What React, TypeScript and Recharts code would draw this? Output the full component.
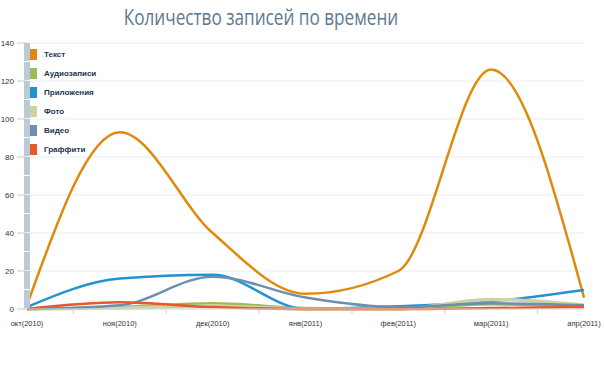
import React from 'react';
import { LineChart, Line, XAxis, YAxis, CartesianGrid, Legend } from 'recharts';

const months = ['окт(2010)', 'ноя(2010)', 'дек(2010)', 'янв(2011)', 'фев(2011)', 'мар(2011)', 'апр(2011)'];
const text = [2, 93, 40, 8, 20, 126, 6];
const audio = [0, 1, 3, 0.5, 0, 2.5, 1];
const apps = [1, 16, 18, 0, 1.5, 4, 10];
const photo = [0, 0.5, 1.5, 0, 0, 5, 2];
const video = [0, 2, 17, 6, 1, 3, 2];
const graffiti = [0, 3.5, 1, 0, 0, 0.5, 1];
const yTicks = [0, 20, 40, 60, 80, 100, 120, 140];

const seriesDefs = [
  { key: 'text', name: 'Текст', color: '#E0890C', values: text },
  { key: 'audio', name: 'Аудиозаписи', color: '#9DBB55', values: audio },
  { key: 'apps', name: 'Приложения', color: '#2592D0', values: apps },
  { key: 'photo', name: 'Фото', color: '#CBD2A4', values: photo },
  { key: 'video', name: 'Видео', color: '#6B90AE', values: video },
  { key: 'graffiti', name: 'Граффити', color: '#E65A2A', values: graffiti },
];
const seriesOrder = seriesDefs.map((s) => s.name);

const data = months.map((m, i) => {
  const row: any = { idx: i, month: m };
  seriesDefs.forEach((s) => { row[s.key] = s.values[i]; });
  return row;
});

const xTicks: number[] = [];
months.forEach((_, i) => {
  xTicks.push(i);
  if (i < months.length - 1) xTicks.push(i + 0.5);
});

const FONT = "'Liberation Sans', Arial, sans-serif";

const XTick = (props: any) => {
  const { x, y, payload } = props;
  const v = payload.value;
  if (Number.isInteger(v)) {
    return (
      <text x={x} y={y + 17} textAnchor="middle" fontSize={7.5} fill="#333" fontFamily={FONT}>
        {months[v]}
      </text>
    );
  }
  return <line x1={x} x2={x} y1={y + 1} y2={y + 5} stroke="#cfcfcf" strokeWidth={1} />;
};

const LegendContent = (props: any) => {
  const items = [...(props.payload || [])].sort(
    (a: any, b: any) => seriesOrder.indexOf(a.value) - seriesOrder.indexOf(b.value)
  );
  return (
    <div>
      {items.map((p: any) => (
        <div key={p.value} style={{ display: 'flex', alignItems: 'center', height: 19 }}>
          <div style={{ width: 7, height: 11, background: p.color, marginRight: 7 }} />
          <span style={{ fontSize: 8, fontWeight: 'bold', color: '#22364f', fontFamily: FONT }}>{p.value}</span>
        </div>
      ))}
    </div>
  );
};

export default function App() {
  return (
    <div style={{ position: 'absolute', left: 0, top: 0, width: 604, height: 378, background: '#fff' }}>
      <div
        style={{
          position: 'absolute',
          top: 1,
          left: 0,
          width: 522,
          textAlign: 'center',
          fontSize: 22,
          color: '#5B7893',
          fontFamily: "'Open Sans', sans-serif",
          transform: 'scaleX(0.78)',
          transformOrigin: '50% 50%',
          whiteSpace: 'nowrap',
          zIndex: 2,
        }}
      >
        Количество записей по времени
      </div>
      <LineChart width={604} height={378} data={data} margin={{ top: 43, right: 20, left: 0, bottom: 0 }}>
        <CartesianGrid vertical={false} stroke="#ececec" />
        <XAxis
          dataKey="idx"
          type="number"
          domain={[0, 6]}
          ticks={xTicks}
          tick={<XTick />}
          tickLine={false}
          tickSize={0}
          tickMargin={0}
          height={69}
          axisLine={{ stroke: '#dcdcdc' }}
          interval={0}
        />
        <YAxis
          type="number"
          domain={[0, 140]}
          ticks={yTicks}
          width={27}
          tickSize={10}
          tickMargin={3}
          tickLine={{ stroke: '#c8c8c8' }}
          axisLine={{ stroke: '#bccad8', strokeWidth: 6, strokeDasharray: '18 1' }}
          tick={{ fontSize: 8, fill: '#333', fontFamily: FONT }}
          interval={0}
        />
        <Legend
          layout="vertical"
          verticalAlign="middle"
          align="center"
          content={<LegendContent />}
          wrapperStyle={{ position: 'absolute', left: 30, top: 45, width: 120, height: 120 }}
        />
        {seriesDefs.map((s) => (
          <Line
            key={s.key}
            type="monotone"
            dataKey={s.key}
            name={s.name}
            stroke={s.color}
            strokeWidth={s.key === 'photo' ? 3.5 : 2.5}
            dot={false}
            activeDot={false}
            isAnimationActive={false}
          />
        ))}
      </LineChart>
    </div>
  );
}
